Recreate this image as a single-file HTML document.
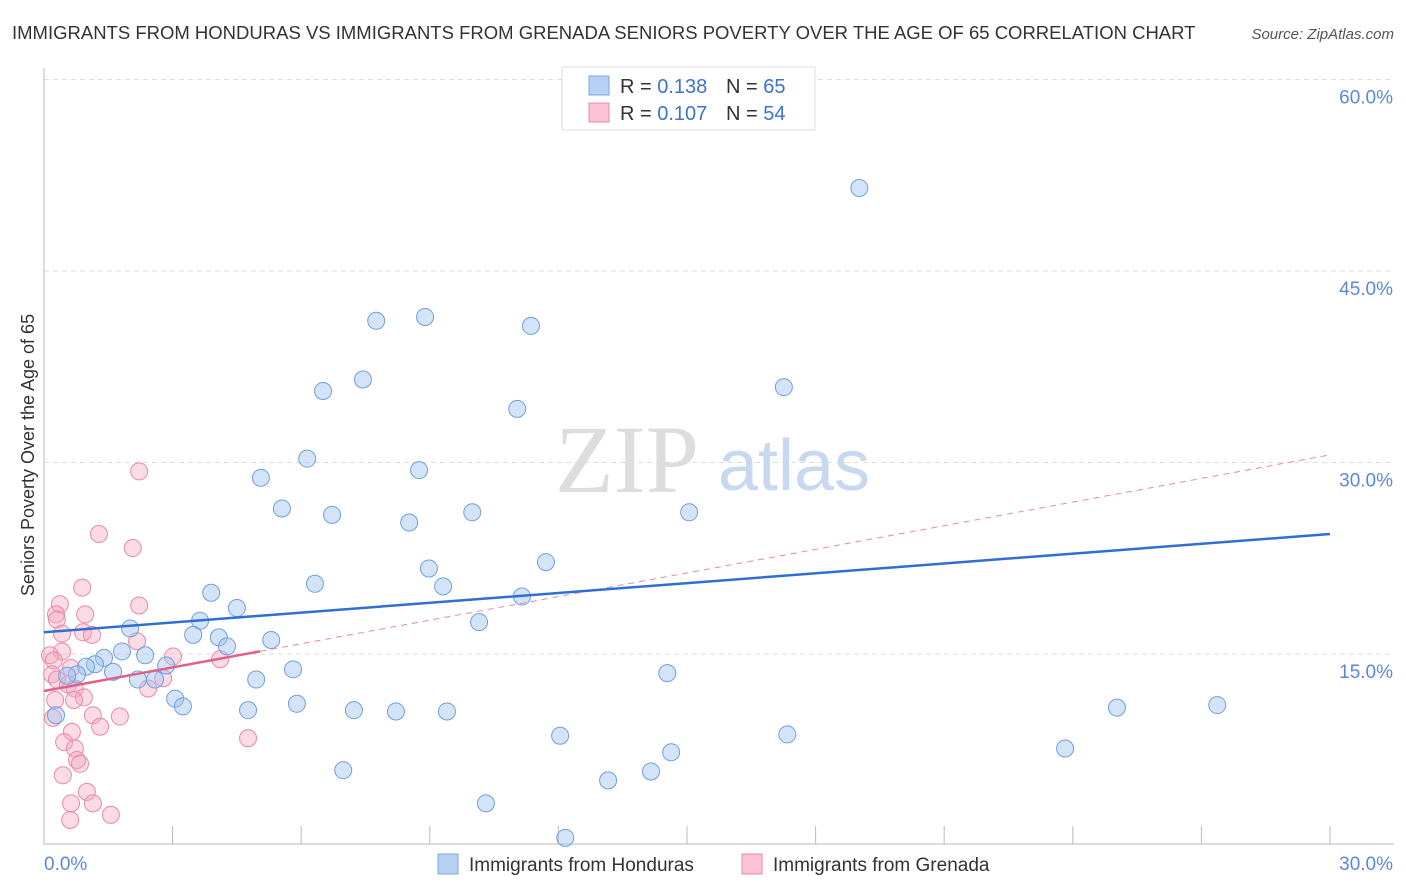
<!DOCTYPE html>
<html><head><meta charset="utf-8"><style>
body{margin:0;background:#fff;font-family:"Liberation Sans",sans-serif;}
svg{display:block}
</style></head><body>
<svg width="1406" height="892" xmlns="http://www.w3.org/2000/svg">
<text x="12" y="39" font-size="18.5" fill="#333">IMMIGRANTS FROM HONDURAS VS IMMIGRANTS FROM GRENADA SENIORS POVERTY OVER THE AGE OF 65 CORRELATION CHART</text>
<text x="1394" y="39" font-size="15" fill="#555" font-style="italic" text-anchor="end">Source: ZipAtlas.com</text>
<g id="grid"></g>
<text x="555" y="492" font-family="Liberation Serif,serif" font-size="96" fill="#ddd">ZIP</text>
<text x="718" y="490" font-size="72" fill="#c8d8f0">atlas</text>
<g id="marks"></g>
<text transform="translate(34,455) rotate(-90)" font-size="18" fill="#333" text-anchor="middle">Seniors Poverty Over the Age of 65</text>
<g>
<rect x="562" y="67" width="253" height="63" fill="#fff" stroke="#ddd"/>
<rect x="589" y="76" width="20" height="19" fill="#b7d1f5" stroke="#7aa7e0"/>
<rect x="589" y="103" width="20" height="19" fill="#f9c3d4" stroke="#e889a8"/>
<text x="620" y="93" font-size="20" fill="#333">R = <tspan fill="#3b74d0">0.138</tspan><tspan x="726">N = </tspan><tspan fill="#3b74d0">65</tspan></text>
<text x="620" y="120" font-size="20" fill="#333">R = <tspan fill="#3b74d0">0.107</tspan><tspan x="726">N = </tspan><tspan fill="#3b74d0">54</tspan></text>
</g>
<g>
<rect x="438" y="854" width="20" height="20" fill="#b7d1f5" stroke="#7aa7e0"/>
<text x="469" y="871" font-size="19" fill="#333">Immigrants from Honduras</text>
<rect x="742" y="854" width="20" height="20" fill="#f9c3d4" stroke="#e889a8"/>
<text x="773" y="871" font-size="19" fill="#333">Immigrants from Grenada</text>
</g>
</svg>
<script>
const yTicks=[15,30,45,60];
const xTickLabels=["0.0%","30.0%"];
const blueX=[19.02,7.75,8.89,11.36,7.44,6.51,17.26,11.04,6.14,8.75,5.06,5.55,6.72,9.99,15.05,8.52,11.71,8.98,6.32,9.31,3.90,11.15,4.50,3.64,10.15,2.01,3.48,4.08,5.30,4.27,1.82,2.36,1.40,1.19,0.98,2.85,5.81,14.54,1.61,0.77,0.54,2.19,2.59,4.95,3.06,3.24,5.90,4.76,7.23,8.21,9.40,25.03,27.37,0.28,12.04,17.34,14.63,23.82,6.98,14.16,13.16,10.31,12.16];
const blueY=[51.5,41.1,41.4,40.7,36.5,35.6,35.9,34.2,30.3,29.4,28.8,26.4,25.9,26.1,26.1,25.3,22.2,21.7,20.5,20.3,19.8,19.5,18.6,17.6,17.5,17.0,16.5,16.3,16.1,15.6,15.2,14.9,14.7,14.2,14.0,14.1,13.8,13.5,13.6,13.4,13.3,13.0,13.0,13.0,11.5,10.9,11.1,10.6,10.6,10.5,10.5,10.8,11.0,10.2,8.6,8.7,7.3,7.6,5.9,5.8,5.1,3.3,0.6];
const pinkX=[2.22,1.28,2.07,0.89,0.37,2.22,0.28,0.96,0.30,0.91,0.42,1.12,2.17,0.42,0.14,0.23,3.01,4.11,0.63,0.19,2.78,0.30,0.56,0.72,2.43,0.93,0.70,0.26,0.21,1.14,1.31,0.65,0.47,1.77,4.76,0.72,0.77,0.84,0.44,1.00,1.14,0.63,1.56,0.61];
const pinkY=[29.3,24.4,23.3,20.2,18.9,18.8,18.1,18.1,17.7,16.7,16.6,16.5,16.0,15.2,14.9,14.5,14.8,14.6,13.9,13.4,13.1,13.0,12.6,12.3,12.3,11.6,11.4,11.4,10.0,10.2,9.3,8.9,8.1,10.1,8.4,7.6,6.7,6.4,5.5,4.2,3.3,3.3,2.4,2.0];
const blueTrend=[16.7,24.4];
const pinkTrend=[12.1,30.6];
const pinkSolidEnd=5.04;
const X0=44,X1=1330,Y0=845.5,PY=191.5/15;
const sx=v=>X0+(v/30)*(X1-X0), sy=v=>Y0-v*PY;
const NS="http://www.w3.org/2000/svg";
function mk(t,a,p){const e=document.createElementNS(NS,t);for(const k in a)e.setAttribute(k,a[k]);p.appendChild(e);return e;}
const grid=document.getElementById('grid'), marks=document.getElementById('marks');
yTicks.forEach(t=>{
 const l=mk('line',{x1:X0,x2:1394,y1:sy(t),y2:sy(t),stroke:'#ddd','stroke-dasharray':'5,4'},grid);
 
 
 const tx=mk('text',{x:1393,y:sy(t)+24,'text-anchor':'end','font-size':19,fill:'#5a8ad6'},grid);
 tx.textContent=t.toFixed(1)+'%';
 
 
});
const ax=mk('line',{x1:X0,x2:X0,y1:68,y2:845,stroke:'#bbb'},grid);


const bx=mk('line',{x1:X0,x2:1394,y1:844,y2:844,stroke:'#bbb'},grid);


for(let i=0;i<=10;i++){const t=mk('line',{x1:sx(i*3),x2:sx(i*3),y1:826,y2:844,stroke:'#bbb'},grid);
 
 }
const xl0=mk('text',{x:44,y:870,'font-size':19,fill:'#5a8ad6'},grid);xl0.textContent=xTickLabels[0];


const xl1=mk('text',{x:1393,y:870,'font-size':19,fill:'#5a8ad6','text-anchor':'end'},grid);xl1.textContent=xTickLabels[1];


pinkX.forEach((v,i)=>{const c=mk('circle',{cx:sx(v),cy:sy(pinkY[i]),r:8.5,fill:'rgba(245,165,190,0.4)',stroke:'#e889a8','stroke-width':1},marks);
 
 });
blueX.forEach((v,i)=>{const c=mk('circle',{cx:sx(v),cy:sy(blueY[i]),r:8.5,fill:'rgba(160,195,240,0.45)',stroke:'#6f9fdf','stroke-width':1},marks);
 
 });
const pd=mk('line',{x1:sx(0),y1:sy(pinkTrend[0]),x2:sx(30),y2:sy(pinkTrend[1]),stroke:'#e889a8','stroke-width':1,'stroke-dasharray':'6,5'},marks);


const pe=pinkTrend[0]+(pinkTrend[1]-pinkTrend[0])*pinkSolidEnd/30;
const ps=mk('line',{x1:sx(0),y1:sy(pinkTrend[0]),x2:sx(pinkSolidEnd),y2:sy(pe),stroke:'#e0608a','stroke-width':2.5},marks);


const bl=mk('line',{x1:sx(0),y1:sy(blueTrend[0]),x2:sx(30),y2:sy(blueTrend[1]),stroke:'#2f6fd0','stroke-width':2.5},marks);


</script>
</body></html>
